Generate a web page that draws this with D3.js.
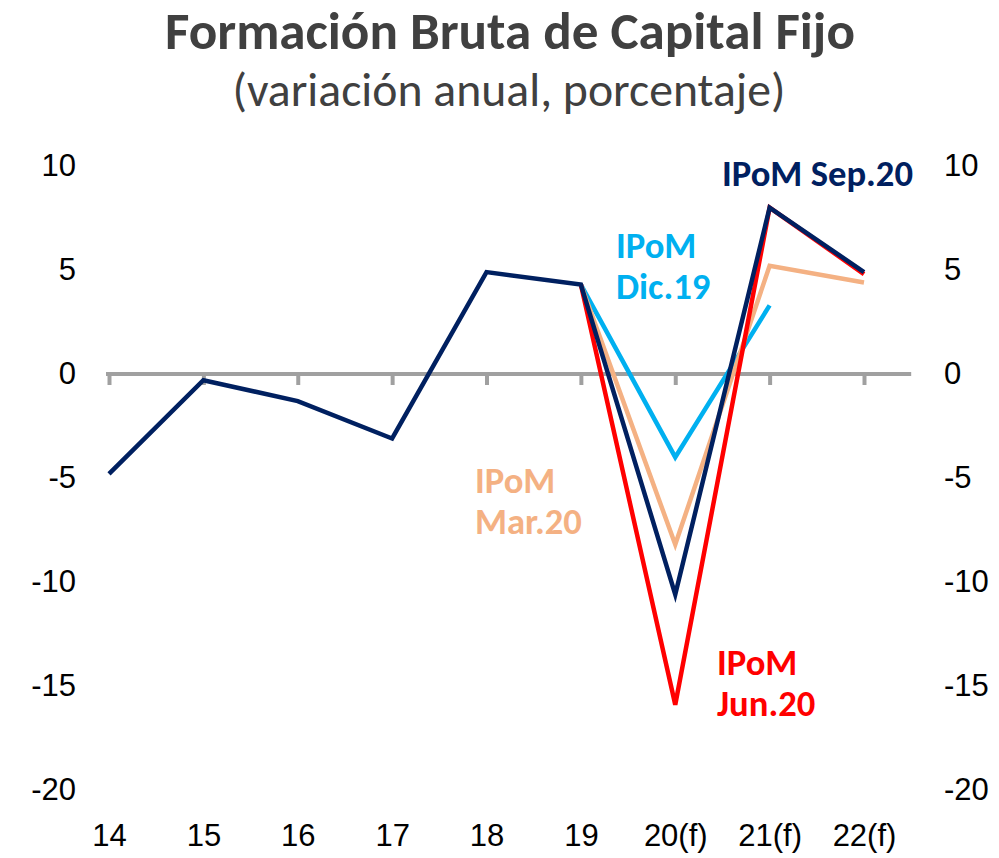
<!DOCTYPE html>
<html>
<head>
<meta charset="utf-8">
<script src="https://cdn.jsdelivr.net/npm/d3@7"></script>
<style>
  html, body { margin: 0; padding: 0; background: #ffffff; }
  svg { display: block; font-family: Carlito, Calibri, Lato, "Open Sans", sans-serif; }
</style>
</head>
<body>
<svg id="chart" width="999" height="858"></svg>
<script>
// Categories (years, f = forecast)
const categories = ["14", "15", "16", "17", "18", "19", "20(f)", "21(f)", "22(f)"];

// Annual change in gross fixed capital formation, % — one array per IPoM report
const ipomSep20 = [-4.8, -0.3, -1.3, -3.1, 4.9, 4.3, -10.6, 8.0, 4.9];
const ipomJun20 = [null, null, null, null, null, 4.3, -15.9, 8.0, 4.8];
const ipomMar20 = [null, null, null, null, null, 4.3, -8.2, 5.2, 4.4];
const ipomDic19 = [null, null, null, null, null, 4.3, -4.0, 3.3, null];

const yTicks = [10, 5, 0, -5, -10, -15, -20];

const series = [
  { name: "Dic.19", values: ipomDic19, color: "#00B0F0" },
  { name: "Mar.20", values: ipomMar20, color: "#F4B183" },
  { name: "Jun.20", values: ipomJun20, color: "#FF0000" },
  { name: "Sep.20", values: ipomSep20, color: "#002060" }
];

const svg = d3.select("#chart");

const x = d3.scalePoint().domain(categories).range([109, 864]);
const y = d3.scaleLinear().domain([-20, 10]).range([790, 166]);

// Scale a text's font size so that it spans the given width
function fitText(sel, width) {
  const w = sel.node().getComputedTextLength();
  const fs = parseFloat(sel.attr("font-size"));
  const size = fs * width / w;
  sel.attr("font-size", size);
  return size;
}

// Title and subtitle
const title = svg.append("text")
  .attr("x", 510).attr("y", 49)
  .attr("text-anchor", "middle")
  .attr("font-size", 40).attr("font-weight", "bold")
  .attr("fill", "#404040")
  .text("Formación Bruta de Capital Fijo");
fitText(title, 690);
const subtitle = svg.append("text")
  .attr("x", 509).attr("y", 106)
  .attr("text-anchor", "middle")
  .attr("font-size", 36)
  .attr("fill", "#404040")
  .text("(variación anual, porcentaje)");
fitText(subtitle, 553);

const fmt = d => String(d);
const tickFont = 31;

// Left and right value axes (labels only)
const leftAxis = d3.axisLeft(y).tickValues(yTicks).tickFormat(fmt).tickSize(0).tickPadding(0);
const rightAxis = d3.axisRight(y).tickValues(yTicks).tickFormat(fmt).tickSize(0).tickPadding(0);
const gl = svg.append("g").attr("transform", "translate(76,0)").call(leftAxis);
const gr = svg.append("g").attr("transform", "translate(944,0)").call(rightAxis);
[gl, gr].forEach(g => {
  g.select(".domain").remove();
  g.selectAll("text").attr("font-size", tickFont).attr("fill", "#000").attr("font-family", null);
});

// Category labels along the bottom
const bottomAxis = d3.axisBottom(x).tickSize(0).tickPadding(0);
const gb = svg.append("g").attr("transform", "translate(0,824)").call(bottomAxis);
gb.select(".domain").remove();
gb.selectAll("text").attr("font-size", tickFont).attr("fill", "#000").attr("font-family", null);

// Zero line with downward tick marks at each category
const zeroAxis = d3.axisBottom(x).tickSize(11).tickFormat("");
const gz = svg.append("g").attr("transform", `translate(0,${y(0)})`).call(zeroAxis);
gz.select(".domain")
  .attr("d", `M${x(categories[0]) - 3},0H${x(categories[categories.length - 1]) + x.step() / 2}`)
  .attr("stroke", "#A0A0A0").attr("stroke-width", 4);
gz.selectAll(".tick line").attr("stroke", "#A0A0A0").attr("stroke-width", 4);

// Series lines
const line = d3.line()
  .defined(d => d != null)
  .x((d, i) => x(categories[i]))
  .y(d => y(d));

series.forEach(s => {
  svg.append("path")
    .datum(s.values)
    .attr("d", line)
    .attr("fill", "none")
    .attr("stroke", s.color)
    .attr("stroke-width", 4.5)
    .attr("stroke-linejoin", "miter");
});

// Series labels
const labels = [
  { lines: ["IPoM Sep.20"], x: 722, y: 186, color: "#002060" },
  { lines: ["IPoM", "Dic.19"], x: 616, y: 258, color: "#00B0F0" },
  { lines: ["IPoM", "Mar.20"], x: 475, y: 493, color: "#F4B183" },
  { lines: ["IPoM", "Jun.20"], x: 717, y: 675, color: "#FF0000" }
];
let labelSize = 28;
labels.forEach((l, k) => {
  const t = svg.append("text")
    .attr("x", l.x).attr("y", l.y)
    .attr("font-size", labelSize).attr("font-weight", "bold")
    .attr("fill", l.color);
  l.lines.forEach((s, i) => {
    t.append("tspan").attr("x", l.x).attr("dy", i === 0 ? 0 : 41).text(s);
  });
  if (k === 0) labelSize = fitText(t, 191);
});
</script>
</body>
</html>
